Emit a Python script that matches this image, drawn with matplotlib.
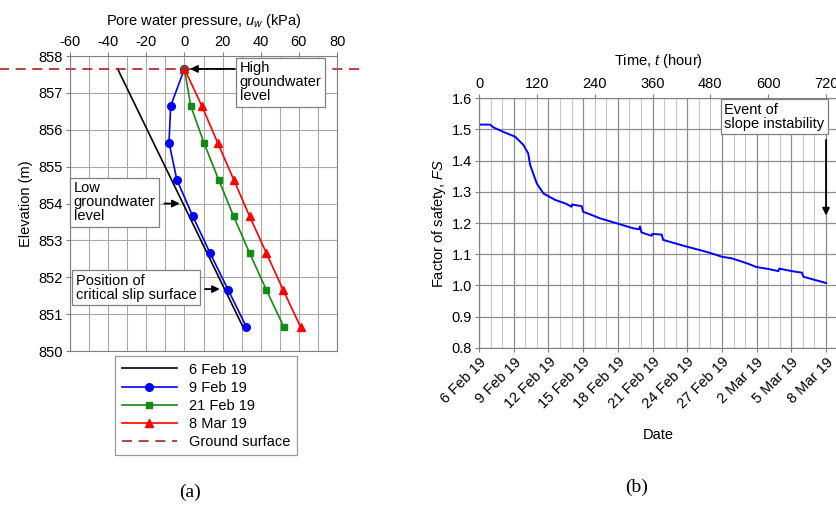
import numpy as np
import matplotlib
matplotlib.use('Agg')
import matplotlib.pyplot as plt
from matplotlib.ticker import MultipleLocator, FixedLocator

plt.rcParams['font.family'] = ['Liberation Sans', 'DejaVu Sans']
plt.rcParams['font.size'] = 10.5
plt.rcParams['axes.unicode_minus'] = False
plt.rcParams['mathtext.fontset'] = 'custom'
plt.rcParams['mathtext.it'] = 'Liberation Sans:italic'
plt.rcParams['mathtext.rm'] = 'Liberation Sans'

# (a) pore water pressure profiles
elev = [857.65, 856.65, 855.65, 854.65, 853.65, 852.65, 851.65, 850.65]
u_6feb_elev = [857.65, 850.65]
u_6feb = [-35.0, 30.7]
u_9feb = [0.0, -7.2, -8.1, -4.0, 4.4, 13.5, 23.0, 32.5]
u_21feb = [0.0, 3.3, 10.2, 17.9, 25.8, 34.2, 43.0, 52.1]
u_8mar = [0.0, 9.1, 17.4, 25.8, 34.2, 43.0, 51.8, 60.9]
ground_elev = 857.65

# (b) factor of safety with time
hours = [0, 23, 30, 50, 75, 92, 102, 106, 112, 120, 134, 158, 180, 192, 193, 213, 216,
         230, 251, 286, 320, 332, 334, 337, 358, 360, 379, 382, 400, 432, 459, 480,
         504, 524, 540, 556, 576, 600, 621, 623, 649, 670, 673, 694, 720]
fs = [1.515, 1.515, 1.506, 1.492, 1.476, 1.450, 1.423, 1.386, 1.360, 1.326, 1.294, 1.274,
      1.262, 1.252, 1.259, 1.254, 1.236, 1.228, 1.215, 1.199, 1.183, 1.180, 1.189, 1.170,
      1.159, 1.165, 1.163, 1.146, 1.138, 1.124, 1.113, 1.104, 1.092, 1.087, 1.079,
      1.071, 1.059, 1.053, 1.046, 1.054, 1.046, 1.041, 1.028, 1.019, 1.008]
date_ticks = [0, 72, 144, 216, 288, 360, 432, 504, 576, 648, 720]
date_labels = ['6 Feb 19', '9 Feb 19', '12 Feb 19', '15 Feb 19', '18 Feb 19', '21 Feb 19',
               '24 Feb 19', '27 Feb 19', '2 Mar 19', '5 Mar 19', '8 Mar 19']
hour_ticks = [0, 120, 240, 360, 480, 600, 720]

fig = plt.figure(figsize=(8.36, 5.08), dpi=100)
ax1 = fig.add_axes([0.0837, 0.309, 0.3195, 0.5807])

ax1.plot(u_6feb, u_6feb_elev, color='black', lw=1.2, label='6 Feb 19')
ax1.plot(u_9feb, elev, color='#0000ff', lw=1.2, marker='o', ms=5.5, label='9 Feb 19')
ax1.plot(u_21feb, elev, color='#138a13', lw=1.2, marker='s', ms=3.8, label='21 Feb 19')
ax1.plot(u_8mar, elev, color='#ff0000', lw=1.2, marker='^', ms=5.5, label='8 Mar 19')
ax1.plot([-97, 92], [ground_elev, ground_elev], color='#b01c1c', lw=1.2, ls=(0, (6, 4)),
         clip_on=False, label='Ground surface')

ax1.set_xlim(-60, 80)
ax1.set_ylim(850, 858)
ax1.xaxis.set_major_locator(MultipleLocator(20))
ax1.xaxis.set_minor_locator(MultipleLocator(10))
ax1.yaxis.set_major_locator(MultipleLocator(1))
ax1.xaxis.tick_top()
ax1.xaxis.set_label_position('top')
ax1.tick_params(axis='both', which='both', direction='out', length=3, color='#808080', pad=2)
ax1.tick_params(axis='x', which='minor', length=0)
ax1.grid(True, which='both', color='#a8a8a8', lw=0.8)
ax1.set_axisbelow(True)
for s in ax1.spines.values():
    s.set_color('#808080')
ax1.set_xlabel('Pore water pressure, $u_w$ (kPa)', labelpad=7)
ax1.set_ylabel('Elevation (m)', labelpad=4)

box = dict(boxstyle='square,pad=0.25', fc='white', ec='#808080', lw=0.9)
ax1.text(29, 857.86, 'High\ngroundwater\nlevel', ha='left', va='top', bbox=box,
         linespacing=1.0, zorder=6)
ax1.annotate('', xy=(1.5, 857.65), xytext=(27.5, 857.65),
             arrowprops=dict(arrowstyle='-|>', color='black', lw=1.3), zorder=6)
ax1.text(-58.0, 854.6, 'Low\ngroundwater\nlevel', ha='left', va='top', bbox=box,
         linespacing=1.0, zorder=6)
ax1.annotate('', xy=(-1.0, 854.0), xytext=(-12.0, 854.0),
             arrowprops=dict(arrowstyle='-|>', color='black', lw=1.3), zorder=6)
ax1.text(-57.0, 852.1, 'Position of\ncritical slip surface', ha='left', va='top', bbox=box,
         linespacing=1.0, zorder=6)
ax1.annotate('', xy=(20.0, 851.68), xytext=(9.3, 851.68),
             arrowprops=dict(arrowstyle='-|>', color='black', lw=1.3), zorder=6)

leg = fig.legend(*ax1.get_legend_handles_labels(), loc='upper left',
                 bbox_to_anchor=(0.1376, 0.2992), frameon=True, fancybox=False,
                 handlelength=3.8, handletextpad=0.8, borderpad=0.45, labelspacing=0.28,
                 borderaxespad=0)
leg.get_frame().set_edgecolor('#808080')
leg.get_frame().set_linewidth(0.9)

# (b)
ax2 = fig.add_axes([0.573, 0.315, 0.4295, 0.492])
ax2.plot(hours, fs, color='#0000ff', lw=1.4)
ax2.set_xlim(0, 745)
ax2.set_ylim(0.8, 1.6)
ax2.yaxis.set_major_locator(MultipleLocator(0.1))
ax2.xaxis.set_major_locator(FixedLocator(date_ticks))
ax2.xaxis.set_minor_locator(MultipleLocator(24))
ax2.set_xticklabels(date_labels, rotation=45, ha='right', rotation_mode='anchor')
ax2.tick_params(axis='both', which='major', direction='out', length=3, color='#808080', pad=2)
ax2.tick_params(axis='x', which='minor', length=0)
ax2.grid(True, which='major', color='#8c8c8c', lw=0.9)
ax2.grid(True, which='minor', axis='x', color='#c8c8c8', lw=0.8)
ax2.set_axisbelow(True)
for s in ax2.spines.values():
    s.set_color('#808080')
ax2.set_xlabel('Date', labelpad=12)
ax2.set_ylabel('Factor of safety, $FS$', labelpad=3)
ax2.yaxis.set_major_formatter(matplotlib.ticker.FormatStrFormatter('%.1f'))

top = ax2.twiny()
top.set_xlim(ax2.get_xlim())
top.set_xticks(hour_ticks)
top.tick_params(direction='out', length=3, color='#808080', pad=2)
top.set_xlabel('Time, $t$ (hour)', labelpad=9)
for s in top.spines.values():
    s.set_visible(False)

ax2.text(509, 1.585, 'Event of\nslope instability', ha='left', va='top', bbox=box,
         linespacing=1.0, zorder=6)
ax2.annotate('', xy=(720, 1.215), xytext=(720, 1.475),
             arrowprops=dict(arrowstyle='-|>', color='black', lw=1.3), zorder=6)

fig.text(0.227, 0.03, '(a)', family='Liberation Serif', fontsize=14, ha='center', va='center')
fig.text(0.762, 0.04, '(b)', family='Liberation Serif', fontsize=14, ha='center', va='center')

fig.savefig('out.png', dpi=100)
